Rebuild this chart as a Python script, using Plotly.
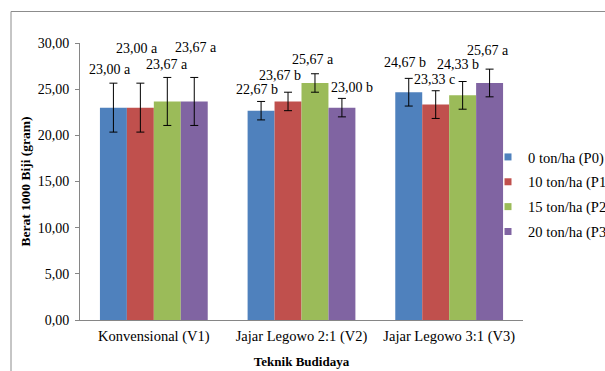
import plotly.graph_objects as go

categories = ["Konvensional (V1)", "Jajar Legowo 2:1 (V2)", "Jajar Legowo 3:1 (V3)"]
series_names = ["0 ton/ha (P0)", "10 ton/ha (P1)", "15 ton/ha (P2)", "20 ton/ha (P3)"]
values_P0 = [23.00, 22.67, 24.67]
values_P1 = [23.00, 23.67, 23.33]
values_P2 = [23.67, 25.67, 24.33]
values_P3 = [23.67, 23.00, 25.67]
errors_P0 = [2.65, 1.0, 1.5]
errors_P1 = [2.65, 1.0, 1.5]
errors_P2 = [2.6, 1.0, 1.5]
errors_P3 = [2.6, 1.0, 1.5]
labels_P0 = ["23,00 a", "22,67 b", "24,67 b"]
labels_P1 = ["23,00 a", "23,67 b", "23,33 c"]
labels_P2 = ["23,67 a", "25,67 a", "24,33 b"]
labels_P3 = ["23,67 a", "23,00 b", "25,67 a"]

values = [values_P0, values_P1, values_P2, values_P3]
errors = [errors_P0, errors_P1, errors_P2, errors_P3]
labels = [labels_P0, labels_P1, labels_P2, labels_P3]
colors = ["#4F81BD", "#C0504D", "#9BBB59", "#8064A2"]

# label placement tweaks (pixels): [series][category]
label_dx = [[-3, -4, -4], [-3, -8, -1], [0, -2, -5], [2, 10, -2]]
label_dy = [[14, 12, 16], [35, 17, 11], [13, 14, 17], [30, 11, 19]]

serif = "Liberation Serif"
bargap = 0.27
fig = go.Figure()
for s in range(4):
    fig.add_trace(go.Bar(
        name=series_names[s], x=list(range(len(categories))), y=values[s],
        marker=dict(color=colors[s], line=dict(width=0)),
        error_y=dict(type="data", array=errors[s], color="black", thickness=1, width=4),
        legendgroup=series_names[s], showlegend=False,
    ))
# legend entries (small square markers like the reference)
for s in range(4):
    fig.add_trace(go.Scatter(
        name=series_names[s], x=[None], y=[None], mode="markers",
        marker=dict(symbol="square", size=7, color=colors[s]),
        legendgroup=series_names[s], showlegend=True, hoverinfo="skip",
    ))

bw = (1 - bargap) / 4
annotations = []
for s in range(4):
    for c in range(len(categories)):
        annotations.append(dict(
            x=c + (s - 1.5) * bw, y=values[s][c] + errors[s][c], xref="x", yref="y",
            text=labels[s][c], showarrow=False, yanchor="middle", xanchor="center",
            xshift=label_dx[s][c], yshift=label_dy[s][c],
            font=dict(family=serif, size=14, color="black"),
        ))

fig.update_layout(
    width=605, height=371,
    margin=dict(l=80, r=82, t=43, b=51, autoexpand=False),
    paper_bgcolor="white", plot_bgcolor="white",
    barmode="group", bargap=bargap, bargroupgap=0,
    separators=",.",
    font=dict(family=serif, size=14, color="black"),
    annotations=annotations,
    showlegend=True,
    legend=dict(x=(488 - 80) / 443, xanchor="left", y=(320 - 141) / 277, yanchor="top",
                font=dict(family=serif, size=14.5, color="black"),
                bgcolor="rgba(0,0,0,0)", tracegroupgap=3, itemwidth=30),
    xaxis=dict(
        tickmode="array", tickvals=list(range(len(categories))), ticktext=categories,
        range=[-0.5, 2.5], showline=True, linecolor="#868686", linewidth=1,
        ticks="", showgrid=False, zeroline=False,
        tickfont=dict(family=serif, size=14.5), ticklabelstandoff=3,
        title=dict(text="<b>Teknik Budidaya</b>", font=dict(family=serif, size=13), standoff=12),
    ),
    yaxis=dict(
        range=[0, 30], dtick=5, tickformat=".2f", showline=True, linecolor="#868686",
        linewidth=1, ticks="outside", ticklen=4, tickcolor="#868686", showgrid=False,
        zeroline=False, tickfont=dict(family=serif, size=14), ticklabelstandoff=3,
        title=dict(text="<b>Berat 1000 Biji (gram)</b>", font=dict(family=serif, size=13.5), standoff=3),
    ),
    shapes=[dict(type="rect", xref="paper", yref="paper",
                 x0=(11 - 80) / 443, x1=2, y0=-1, y1=(320 - 11.5) / 277,
                 line=dict(color="#8c8c8c", width=1), layer="below")],
)

fig.write_html("out.html", config={"displayModeBar": False},
               post_script="document.body.style.margin='0';document.body.style.overflow='hidden';")
